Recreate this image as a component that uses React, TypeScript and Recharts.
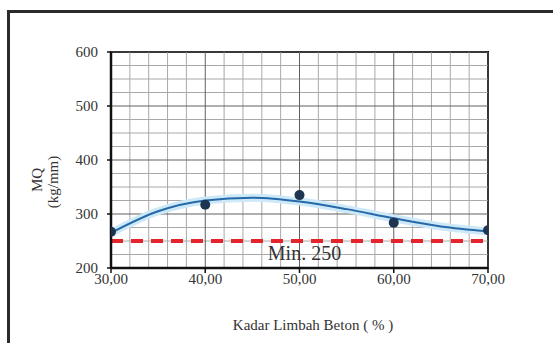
import { ComposedChart, Line, Scatter, XAxis, YAxis, ReferenceLine, ReferenceArea, Label } from 'recharts';

// measured points
const kadar = [30, 40, 50, 60, 70];
const mq = [267, 317, 335, 284, 270];

// polynomial trendline
const trendX = [30, 35, 40, 45, 50, 55, 60, 65, 70];
const trendMQ = [265, 305, 325, 330, 323, 309, 292, 277, 268];

const xTicks = [30, 40, 50, 60, 70];
const yTicks = [200, 300, 400, 500, 600];
const xMinor = [32, 34, 36, 38, 42, 44, 46, 48, 52, 54, 56, 58, 62, 64, 66, 68];
const yMinor = [225, 250, 275, 325, 350, 375, 425, 450, 475, 525, 550, 575];
const minLimit = 250;

const trendData = trendX.map((x, i) => ({ x, trend: trendMQ[i] }));
const pointData = kadar.map((x, i) => ({ x, mq: mq[i] }));

const serif = '"Liberation Serif", "Times New Roman", serif';
const txt = '#333';

const fmt = (v: number) => v.toFixed(2).replace('.', ',');

const Dot = (p: any) => <circle cx={p.cx} cy={p.cy} r={5} fill="#1d3550" />;

const YTitle = () => (
    <g fontFamily={serif} fontSize={15} fill={txt}>
        <text transform="translate(37,180) rotate(-90)" textAnchor="middle" dominantBaseline="central">MQ</text>
        <text transform="translate(53,182) rotate(-90)" textAnchor="middle" dominantBaseline="central">(kg/mm)</text>
    </g>
);

const XTitle = () => (
    <text x={313} y={325} fontFamily={serif} fontSize={15} fill={txt} textAnchor="middle" dominantBaseline="central">
        Kadar Limbah Beton ( % )
    </text>
);

const App = () => {
    return (
        <div style={{ position: 'fixed', left: 0, top: 0, width: 553, height: 343, overflow: 'hidden', background: '#fff' }}>
            <div style={{ position: 'absolute', left: 7, top: 10, width: 600, height: 400, borderLeft: '3px solid #2b2b2b', borderTop: '3px solid #2b2b2b' }} />
            <div style={{ position: 'absolute', left: 0, top: 0 }}>
                <ComposedChart width={553} height={343} data={trendData} margin={{ top: 52, right: 65, bottom: 0, left: 0 }}>
                    <XAxis
                        type="number"
                        dataKey="x"
                        domain={[30, 70]}
                        ticks={xTicks}
                        allowDataOverflow
                        height={75}
                        tickSize={5}
                        tickMargin={0}
                        tickFormatter={fmt}
                        axisLine={{ stroke: '#111', strokeWidth: 2.5 }}
                        tickLine={{ stroke: '#111', strokeWidth: 1.5 }}
                        tick={{ fontFamily: serif, fontSize: 15, fill: txt }}
                    >
                        <Label content={<XTitle />} />
                    </XAxis>
                    <XAxis
                        xAxisId="minor"
                        type="number"
                        domain={[30, 70]}
                        ticks={xMinor}
                        allowDataOverflow
                        height={2}
                        mirror
                        tick={false}
                        tickSize={3}
                        axisLine={false}
                        tickLine={{ stroke: '#111', strokeWidth: 1.5 }}
                    />
                    <YAxis
                        type="number"
                        domain={[200, 600]}
                        ticks={yTicks}
                        allowDataOverflow
                        width={111}
                        tickSize={4}
                        tickMargin={9}
                        axisLine={{ stroke: '#111', strokeWidth: 2.5 }}
                        tickLine={{ stroke: '#111', strokeWidth: 1.5 }}
                        tick={{ fontFamily: serif, fontSize: 15, fill: txt }}
                    >
                        <Label content={<YTitle />} />
                    </YAxis>
                    <YAxis
                        yAxisId="minor"
                        type="number"
                        domain={[200, 600]}
                        ticks={yMinor}
                        allowDataOverflow
                        width={2}
                        mirror
                        tick={false}
                        tickSize={3}
                        axisLine={false}
                        tickLine={{ stroke: '#111', strokeWidth: 1.5 }}
                    />
                    {xMinor.map((v) => (
                        <ReferenceLine key={`vx${v}`} x={v} stroke="#a8a8a8" strokeWidth={1} />
                    ))}
                    {yMinor.map((v) => (
                        <ReferenceLine key={`hy${v}`} y={v} stroke="#a8a8a8" strokeWidth={1} />
                    ))}
                    {xTicks.map((v) => (
                        <ReferenceLine key={`vX${v}`} x={v} stroke="#606060" strokeWidth={1} />
                    ))}
                    {yTicks.map((v) => (
                        <ReferenceLine key={`hY${v}`} y={v} stroke="#606060" strokeWidth={1} />
                    ))}
                    <ReferenceArea x1={30} x2={70} y1={200} y2={600} fill="none" stroke="#111" strokeWidth={2} ifOverflow="visible" />
                    <ReferenceLine
                        y={minLimit}
                        stroke="#e3242b"
                        strokeWidth={4}
                        strokeDasharray="12 8"
                        label={{ value: 'Min. 250', position: 'bottom', offset: 5, dx: 5, fill: txt, fontSize: 20, fontFamily: serif }}
                    />
                    <Line type="monotone" dataKey="trend" stroke="#cde9f8" strokeWidth={8} dot={false} activeDot={false} isAnimationActive={false} />
                    <Line type="monotone" dataKey="trend" stroke="#2569a8" strokeWidth={2} dot={false} activeDot={false} isAnimationActive={false} />
                    <Scatter data={pointData} dataKey="mq" shape={<Dot />} isAnimationActive={false} />
                </ComposedChart>
            </div>
        </div>
    );
};

export default App;
